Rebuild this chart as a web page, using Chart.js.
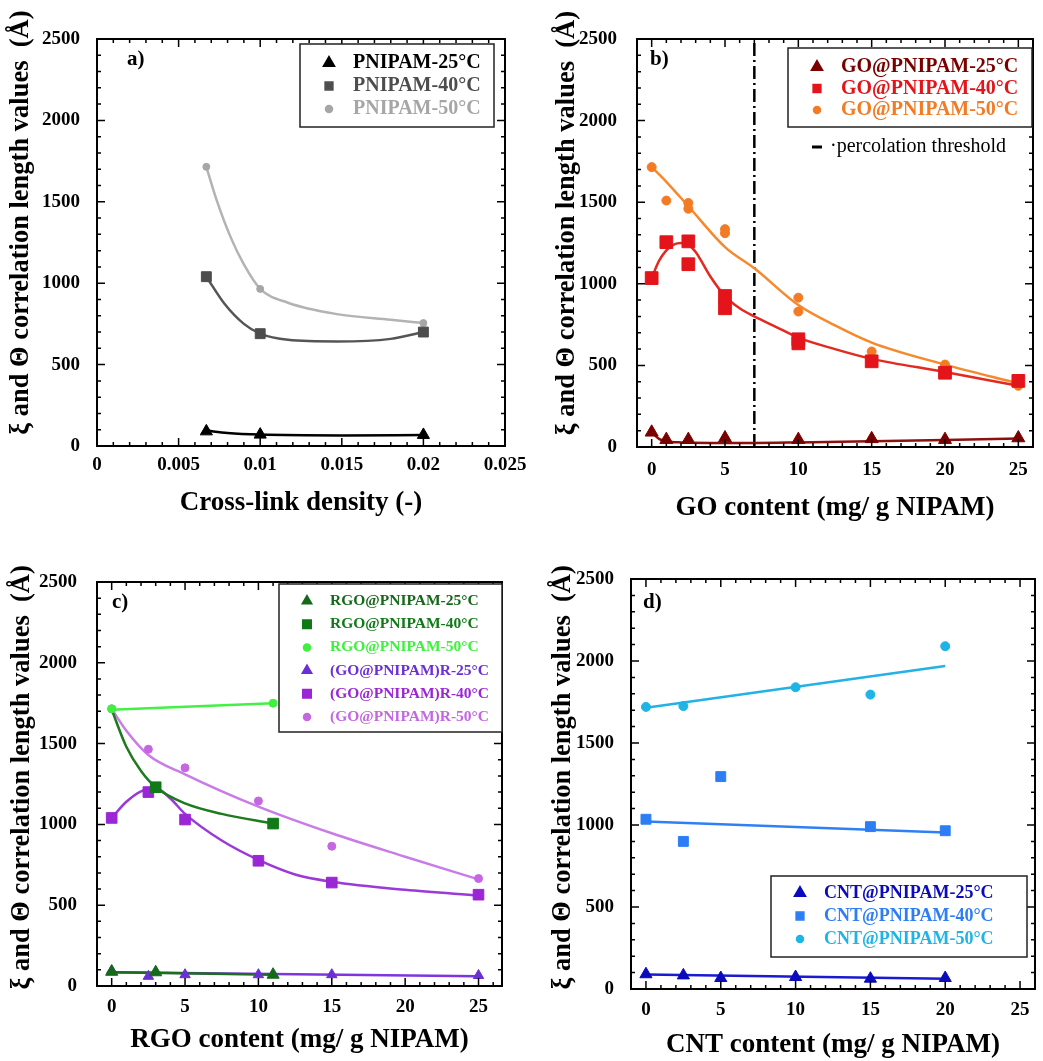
<!DOCTYPE html>
<html>
<head>
<meta charset="utf-8">
<script src="https://cdn.jsdelivr.net/npm/chart.js@4.4.0/dist/chart.umd.min.js"></script>
<style>
body { margin:0; background:#fff; width:1043px; height:1061px; position:relative; overflow:hidden; }
canvas { position:absolute; }
</style>
</head>
<body>
<canvas id="grafA" width="532" height="540" style="left:0;top:0"></canvas>
<canvas id="grafB" width="522" height="540" style="left:521px;top:0"></canvas>
<canvas id="grafC" width="521" height="521" style="left:0;top:540px"></canvas>
<canvas id="grafD" width="522" height="521" style="left:521px;top:540px"></canvas>
<script>
var SERIF = "'Liberation Serif','Times New Roman',serif";
var Y_TITLE = 'ξ and Θ correlation length values  (Å)';
var yTicks = [0, 500, 1000, 1500, 2000, 2500];

// a) pure PNIPAM vs cross-link density
var crossLink = [0.0067, 0.01, 0.02];
var pnipam25 = [90, 70, 68];
var pnipam40 = [1040, 690, 700];
var pnipam50 = [1715, 965, 755];
var pnipam25FitX = [0.0067, 0.008, 0.01, 0.015, 0.02];
var pnipam25Fit = [95, 80, 70, 65, 68];
var pnipam40FitX = [0.0067, 0.0078, 0.009, 0.01, 0.0117, 0.0147, 0.018, 0.02];
var pnipam40Fit = [1040, 875, 750, 690, 652, 642, 658, 700];
var pnipam50FitX = [0.0067, 0.0073, 0.0082, 0.009, 0.01, 0.0117, 0.0147, 0.018, 0.02];
var pnipam50Fit = [1715, 1520, 1280, 1115, 965, 880, 810, 775, 755];
var xTicksA = [0, 0.005, 0.01, 0.015, 0.02, 0.025];

// b) GO@PNIPAM
var go25X = [0, 1, 2.5, 5, 10, 15, 20, 25];
var go25 = [90, 45, 45, 55, 45, 50, 45, 55];
var go40X = [0, 1, 2.5, 2.5, 5, 5, 10, 10, 15, 20, 25];
var go40 = [1035, 1255, 1260, 1120, 925, 850, 660, 635, 525, 455, 405];
var go50X = [0, 1, 2.5, 2.5, 5, 5, 10, 10, 15, 20, 25];
var go50 = [1715, 1510, 1495, 1460, 1335, 1310, 915, 830, 585, 505, 375];
var go25FitX = [0, 0.5, 1, 2, 5, 7, 10, 15, 20, 25];
var go25Fit = [90, 50, 35, 28, 25, 25, 28, 35, 43, 52];
var go40FitX = [0, 0.5, 1, 1.5, 2, 2.5, 3, 4, 5, 6, 7, 8.5, 10, 12.5, 15, 20, 25];
var go40Fit = [1035, 1140, 1205, 1240, 1250, 1240, 1195, 1045, 925, 850, 800, 735, 670, 600, 540, 460, 375];
var go50FitX = [0, 1, 2.5, 5, 7, 10, 12.5, 15, 20, 25];
var go50Fit = [1715, 1625, 1475, 1225, 1095, 870, 745, 640, 505, 390];
var percolation = 7;
var contentTicks = [0, 5, 10, 15, 20, 25];

// c) RGO@PNIPAM and reduced (GO@PNIPAM)R
var rgo25X = [0, 3, 11];
var rgo25 = [88, 85, 70];
var rgo40X = [3, 11];
var rgo40 = [1230, 1005];
var rgo50X = [0, 11];
var rgo50 = [1715, 1750];
var redX = [0, 2.5, 5, 10, 15, 25];
var red25 = [95, 60, 70, 70, 70, 65];
var red40 = [1040, 1200, 1030, 775, 640, 565];
var red50 = [1715, 1465, 1350, 1145, 865, 665];
var rgo25FitX = [0, 11];
var rgo25Fit = [85, 70];
var rgo40FitX = [0, 1, 2, 3, 5, 7.5, 11];
var rgo40Fit = [1710, 1480, 1330, 1230, 1130, 1065, 1005];
var rgo50FitX = [0, 11];
var rgo50Fit = [1710, 1750];
var red25FitX = [0, 25];
var red25Fit = [85, 60];
var red40FitX = [0, 1, 2, 3, 4, 5, 7.5, 10, 12.5, 15, 20, 25];
var red40Fit = [1040, 1140, 1205, 1225, 1160, 1065, 900, 780, 690, 645, 595, 560];
var red50FitX = [0, 1, 2.5, 5, 10, 15, 20, 25];
var red50Fit = [1715, 1580, 1430, 1310, 1110, 945, 800, 660];

// d) CNT@PNIPAM
var cnt25X = [0, 2.5, 5, 10, 15, 20];
var cnt25 = [90, 83, 67, 73, 63, 67];
var cnt40X = [0, 2.5, 5, 15, 20];
var cnt40 = [1035, 900, 1295, 990, 965];
var cnt50X = [0, 2.5, 10, 15, 20];
var cnt50 = [1720, 1725, 1840, 1795, 2090];
var cntFitX = [0, 20];
var cnt25Fit = [88, 63];
var cnt40Fit = [1022, 955];
var cnt50Fit = [1715, 1970];

function pts(xs, ys) {
    return xs.map(function(x, i) { return {x: x, y: ys[i]}; });
}

function marks(label, xs, ys, color, style, r) {
    return {label: label, data: pts(xs, ys), pointStyle: style, pointRadius: r,
        backgroundColor: color, borderColor: color, borderWidth: 1, order: 0};
}

function fit(xs, ys, color) {
    return {data: pts(xs, ys), showLine: true, pointRadius: 0, borderColor: color,
        borderWidth: 2.5, cubicInterpolationMode: 'monotone', order: 1};
}

// frame with inward major/minor ticks on all four sides, plus the panel letter
var framePlugin = {
    id: 'frame',
    afterDraw: function(chart, args, o) {
        var ctx = chart.ctx, a = chart.chartArea;
        var x = chart.scales.x, y = chart.scales.y;
        ctx.save();
        ctx.strokeStyle = '#000';
        ctx.lineWidth = 1.5;
        ctx.beginPath();
        var i, p, len, n;
        n = Math.round(o.xMajor / o.xMinor);
        for (i = Math.ceil(x.min / o.xMinor - 1e-6); i * o.xMinor <= x.max + 1e-9; i++) {
            p = x.getPixelForValue(i * o.xMinor);
            len = (i % n === 0) ? 8 : 4;
            ctx.moveTo(p, a.bottom); ctx.lineTo(p, a.bottom - len);
            ctx.moveTo(p, a.top); ctx.lineTo(p, a.top + len);
        }
        for (i = 0; i * 100 <= y.max; i++) {
            p = y.getPixelForValue(i * 100);
            len = (i % 5 === 0) ? 8 : 4;
            ctx.moveTo(a.left, p); ctx.lineTo(a.left + len, p);
            ctx.moveTo(a.right, p); ctx.lineTo(a.right - len, p);
        }
        ctx.stroke();
        ctx.lineWidth = 2;
        ctx.strokeRect(a.left, a.top, a.right - a.left, a.bottom - a.top);
        ctx.fillStyle = '#000';
        ctx.font = 'bold 21px ' + SERIF;
        ctx.textBaseline = 'middle';
        ctx.fillText(o.tag, a.left + o.tagX, a.top + o.tagY);
        ctx.restore();
    }
};

// boxed legend inside the plot area, text coloured like its series
var legendPlugin = {
    id: 'boxLegend',
    afterDraw: function(chart, args, o) {
        var ctx = chart.ctx, a = chart.chartArea;
        var x0 = a.left + o.x, y0 = a.top + o.y;
        ctx.save();
        ctx.fillStyle = '#fff';
        ctx.fillRect(x0, y0, o.w, o.h);
        ctx.lineWidth = 1.5;
        ctx.strokeStyle = '#222';
        ctx.strokeRect(x0, y0, o.w, o.h);
        ctx.font = o.font;
        ctx.textBaseline = 'middle';
        var items = chart.data.datasets.filter(function(d) { return d.label; });
        items.forEach(function(d, i) {
            var cy = y0 + o.first + i * o.row;
            ctx.fillStyle = d.backgroundColor;
            ctx.strokeStyle = d.backgroundColor;
            Chart.helpers.drawPoint(ctx, {pointStyle: d.pointStyle, radius: o.r[d.pointStyle],
                rotation: 0, borderWidth: 1}, x0 + o.mx, cy);
            ctx.fillText(d.label, x0 + o.tx, cy);
        });
        if (o.extra) {
            var ey = y0 + o.extra.y;
            ctx.strokeStyle = '#000';
            ctx.lineWidth = 3;
            ctx.beginPath();
            ctx.moveTo(x0 + o.extra.x1, ey); ctx.lineTo(x0 + o.extra.x2, ey);
            ctx.stroke();
            ctx.fillStyle = '#000';
            ctx.font = '20px ' + SERIF;
            ctx.fillText(o.extra.text, x0 + o.extra.tx, ey);
        }
        ctx.restore();
    }
};

function panel(id, o) {
    var tickFont = {family: SERIF, size: 19, weight: 'bold'};
    return new Chart(document.getElementById(id), {
        type: 'scatter',
        data: {datasets: o.datasets},
        options: {
            responsive: false,
            animation: false,
            layout: {padding: o.pad},
            plugins: {
                legend: {display: false},
                tooltip: {enabled: false},
                frame: {xMinor: o.xMinor, xMajor: o.xMajor, tag: o.tag, tagX: o.tagX, tagY: o.tagY},
                boxLegend: o.legend
            },
            scales: {
                x: {
                    type: 'linear', min: o.xMin, max: o.xMax,
                    grid: {display: false}, border: {display: false},
                    afterBuildTicks: function(s) { s.ticks = o.xTicks.map(function(v) { return {value: v}; }); },
                    afterFit: function(s) { s.height = o.xHeight; },
                    ticks: {font: tickFont, color: '#000', padding: o.xTickPad, maxRotation: 0, autoSkip: false,
                        callback: function(v) { return String(v); }},
                    title: {display: true, text: o.xTitle, color: '#000',
                        font: {family: SERIF, size: 27, weight: 'bold'}, padding: {top: 0, bottom: o.xTitlePad}}
                },
                y: {
                    type: 'linear', min: 0, max: 2500,
                    grid: {display: false}, border: {display: false},
                    afterBuildTicks: function(s) { s.ticks = yTicks.map(function(v) { return {value: v}; }); },
                    afterFit: function(s) { s.width = o.yWidth; },
                    ticks: {font: tickFont, color: '#000', padding: o.yTickPad,
                        callback: function(v) { return String(v); }},
                    title: {display: true, text: (o.yLead || '') + Y_TITLE, color: '#000',
                        font: {family: SERIF, size: 26.5, weight: 'bold'}, padding: {top: o.yTitlePad, bottom: 0}}
                }
            }
        },
        plugins: [framePlugin, legendPlugin]
    });
}

panel('grafA', {
    datasets: [
        marks('PNIPAM-25°C', crossLink, pnipam25, '#000000', 'triangle', 7),
        marks('PNIPAM-40°C', crossLink, pnipam40, '#4d4d4d', 'rect', 7),
        marks('PNIPAM-50°C', crossLink, pnipam50, '#a6a6a6', 'circle', 3.5),
        fit(pnipam25FitX, pnipam25Fit, '#000000'),
        fit(pnipam40FitX, pnipam40Fit, '#555555'),
        fit(pnipam50FitX, pnipam50Fit, '#b3b3b3')
    ],
    pad: {top: 39, right: 27, left: 0, bottom: 0},
    xMin: 0, xMax: 0.025, xTicks: xTicksA, xMinor: 0.001, xMajor: 0.005,
    xHeight: 94, xTickPad: 0, xTitlePad: 21, xTitle: 'Cross-link density (-)',
    yWidth: 97, yTickPad: 9, yTitlePad: 5, yLead: '\u2003\u2002',
    tag: 'a)', tagX: 30, tagY: 21,
    legend: {x: 203, y: 5, w: 194, h: 83, mx: 29, tx: 53, first: 19, row: 23,
        font: 'bold 20px ' + SERIF, r: {triangle: 6.5, rect: 5.5, circle: 3.5}}
});

panel('grafB', {
    datasets: [
        marks('GO@PNIPAM-25°C', go25X, go25, '#7a0000', 'triangle', 7.5),
        marks('GO@PNIPAM-40°C', go40X, go40, '#e3151b', 'rect', 9),
        marks('GO@PNIPAM-50°C', go50X, go50, '#f37b23', 'circle', 4.5),
        fit(go25FitX, go25Fit, '#8b1010'),
        fit(go40FitX, go40Fit, '#e42a20'),
        fit(go50FitX, go50Fit, '#f5892c'),
        {data: pts([percolation, percolation], [0, 2500]), showLine: true, pointRadius: 0,
            borderColor: '#000', borderWidth: 2.5, borderDash: [13, 4, 2, 4], order: 2}
    ],
    pad: {top: 39, right: 5, left: 0, bottom: 0},
    xMin: -1, xMax: 26, xTicks: contentTicks, xMinor: 1, xMajor: 5,
    xHeight: 93, xTickPad: 4, xTitlePad: 16, xTitle: 'GO content (mg/ g NIPAM)',
    yWidth: 116, yTickPad: 12, yTitlePad: 30, yLead: '\u2003\u2002',
    tag: 'b)', tagX: 13, tagY: 21,
    legend: {x: 151, y: 9, w: 244, h: 79, mx: 29, tx: 53, first: 19, row: 21.5,
        font: 'bold 20px ' + SERIF, r: {triangle: 6.5, rect: 5.5, circle: 3.5},
        extra: {y: 99, x1: 24, x2: 34, tx: 42, text: '·percolation threshold'}}
});

panel('grafC', {
    datasets: [
        marks('RGO@PNIPAM-25°C', rgo25X, rgo25, '#16691b', 'triangle', 7),
        marks('RGO@PNIPAM-40°C', rgo40X, rgo40, '#0f7a16', 'rect', 7.5),
        marks('RGO@PNIPAM-50°C', rgo50X, rgo50, '#3ff03f', 'circle', 4),
        marks('(GO@PNIPAM)R-25°C', redX, red25, '#6b2fd6', 'triangle', 6),
        marks('(GO@PNIPAM)R-40°C', redX, red40, '#9b26d6', 'rect', 7.5),
        marks('(GO@PNIPAM)R-50°C', redX, red50, '#c467e0', 'circle', 4),
        fit(rgo25FitX, rgo25Fit, '#1b6e1b'),
        fit(rgo40FitX, rgo40Fit, '#1e7a1e'),
        fit(rgo50FitX, rgo50Fit, '#45f045'),
        fit(red25FitX, red25Fit, '#7d35e0'),
        fit(red40FitX, red40Fit, '#9a3ad8'),
        fit(red50FitX, red50Fit, '#c97be6')
    ],
    pad: {top: 42, right: 19, left: 0, bottom: 0},
    xMin: -1, xMax: 26.6, xTicks: contentTicks, xMinor: 1, xMajor: 5,
    xHeight: 75, xTickPad: 2, xTitlePad: 5, xTitle: 'RGO content (mg/ g NIPAM)',
    yWidth: 97, yTickPad: 12, yTitlePad: 6, yLead: '\u2002',
    tag: 'c)', tagX: 15, tagY: 21,
    legend: {x: 182, y: 2, w: 223, h: 148, mx: 28, tx: 51, first: 17, row: 23.2,
        font: 'bold 15.5px ' + SERIF, r: {triangle: 5.5, rect: 6, circle: 3.5}}
});

panel('grafD', {
    datasets: [
        marks('CNT@PNIPAM-25°C', cnt25X, cnt25, '#0b0bbd', 'triangle', 7),
        marks('CNT@PNIPAM-40°C', cnt40X, cnt40, '#2d7ef5', 'rect', 7),
        marks('CNT@PNIPAM-50°C', cnt50X, cnt50, '#1fb4e6', 'circle', 4.5),
        fit(cntFitX, cnt25Fit, '#1a1ad0'),
        fit(cntFitX, cnt40Fit, '#2f80f5'),
        fit(cntFitX, cnt50Fit, '#22b2e6')
    ],
    pad: {top: 39, right: 5, left: 0, bottom: 0},
    xMin: -1, xMax: 26, xTicks: contentTicks, xMinor: 1, xMajor: 5,
    xHeight: 72, xTickPad: 2, xTitlePad: 0, xTitle: 'CNT content (mg/ g NIPAM)',
    yWidth: 110, yTickPad: 9, yTitlePad: 26, yLead: '\u2002',
    tag: 'd)', tagX: 12, tagY: 24,
    legend: {x: 140, y: 297, w: 256, h: 81, mx: 29, tx: 53, first: 17, row: 23,
        font: 'bold 18px ' + SERIF, r: {triangle: 6.5, rect: 5.5, circle: 3.5}}
});
</script>
</body>
</html>
